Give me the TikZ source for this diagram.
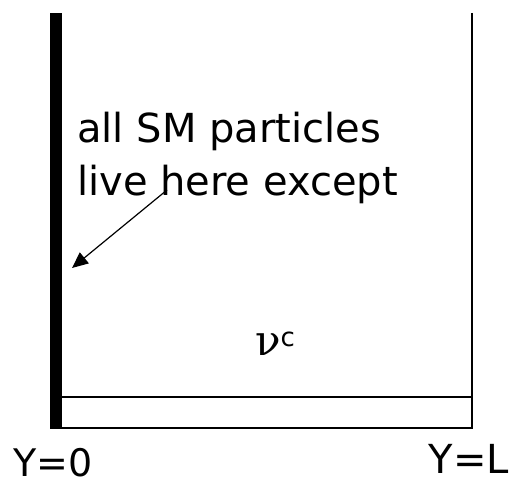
\documentclass[tikz,border=0pt]{standalone}
\usepackage{fontspec}
\setmainfont{DejaVu Sans}
\newfontfamily\greekfont{DejaVu Serif}
\usetikzlibrary{arrows.meta}

\begin{document}
\begin{tikzpicture}[x=1pt,y=-1pt,>=Stealth,
    label/.style={font=\fontsize{40}{48}\selectfont,inner sep=0pt},
    wall/.style={line width=2pt}]
  \useasboundingbox (0,0) rectangle (510,484);
  % brane at Y=0 (thick) and the bulk boundaries
  \fill (50,13) rectangle (62,429);
  \draw[wall] (472,13) -- (472,428) -- (56,428);
  \draw[wall] (62,397) -- (472,397);
  % text
  \node[label,anchor=base west] (line1) at (77,142) {all SM particles};
  \node[label,anchor=base west] (line2) at (77,195) {live here except};
  \node[inner sep=0pt,anchor=base west] (nuc) at (255,355)
    {{\greekfont\fontsize{42}{42}\selectfont ν}\raisebox{9pt}{\fontsize{26}{26}\selectfont c}};
  \node[label,font=\fontsize{38}{44}\selectfont,anchor=base west] (y0) at (13,476) {Y=0};
  \node[label,anchor=base east] (yL) at (509,473) {Y=L};
  % arrow to the brane
  \coordinate (tail) at (167,190);
  \coordinate (tip) at (72,268);
  \draw[line width=1.2pt,-{Triangle[length=16pt,width=14pt]}] (tail) -- (tip);
\end{tikzpicture}
\end{document}
